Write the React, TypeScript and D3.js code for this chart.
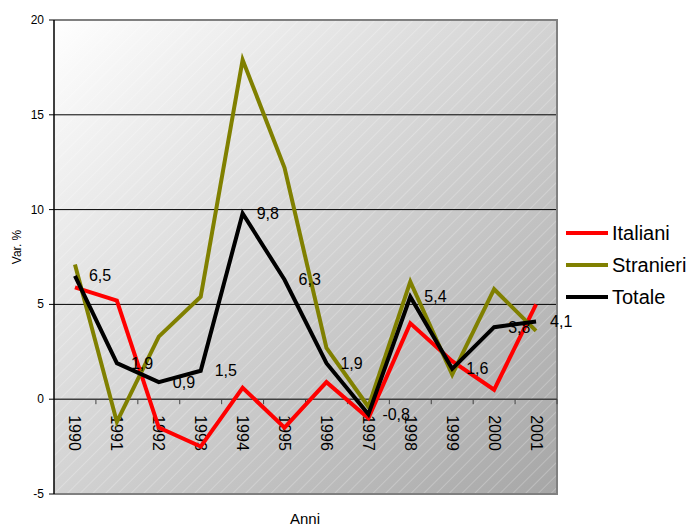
import React from "react";
import * as d3 from "d3";

// Annual % change, 1990–2001
const years = ["1990", "1991", "1992", "1993", "1994", "1995", "1996", "1997", "1998", "1999", "2000", "2001"];
const italiani = [5.9, 5.2, -1.5, -2.5, 0.6, -1.5, 0.9, -1.0, 4.0, 2.0, 0.5, 5.0];
const stranieri = [7.1, -1.2, 3.3, 5.4, 17.9, 12.2, 2.7, -0.4, 6.2, 1.3, 5.8, 3.6];
const totale = [6.5, 1.9, 0.9, 1.5, 9.8, 6.3, 1.9, -0.8, 5.4, 1.6, 3.8, 4.1];
const yTicks = [-5, 0, 5, 10, 15, 20];
const seriesNames = ["Italiani", "Stranieri", "Totale"];
const seriesColors = ["#ff0000", "#808000", "#000000"];

const W = 693;
const H = 527;
const FONT = "'Liberation Sans', Arial, sans-serif";

export default function App() {
  const left = 54;
  const right = 557;
  const top = 20;
  const bottom = 494;

  const x = d3.scaleBand<string>().domain(years).range([left, right]).padding(0);
  const y = d3.scaleLinear().domain([-5, 20]).range([bottom, top]);
  const cx = (yr: string) => (x(yr) as number) + x.bandwidth() / 2;

  const line = d3
    .line<number>()
    .x((_, i) => cx(years[i]))
    .y((v) => y(v));

  const series = [italiani, stranieri, totale];
  const y0 = y(0);

  return (
    <svg
      width={W}
      height={H}
      style={{ position: "absolute", left: 0, top: 0, background: "#ffffff" }}
      fontFamily={FONT}
    >
      <defs>
        <linearGradient id="plotBg" x1="0" y1="0" x2="1" y2="1">
          <stop offset="0" stopColor="#ffffff" />
          <stop offset="1" stopColor="#a6a6a6" />
        </linearGradient>
        <pattern
          id="hatch"
          patternUnits="userSpaceOnUse"
          width={9}
          height={9}
          patternTransform="rotate(45)"
        >
          <line x1={0} y1={0} x2={0} y2={9} stroke="#ffffff" strokeWidth={1} strokeOpacity={0.45} />
        </pattern>
      </defs>

      {/* plot area */}
      <rect x={left} y={top} width={right - left} height={bottom - top} fill="url(#plotBg)" />
      <rect x={left} y={top} width={right - left} height={bottom - top} fill="url(#hatch)" />

      {/* horizontal gridlines */}
      {yTicks
        .filter((t) => t > 0 && t < 20)
        .map((t) => (
          <line key={t} x1={left} x2={right} y1={y(t)} y2={y(t)} stroke="#000" strokeWidth={1} />
        ))}

      {/* plot border */}
      <path
        d={`M${left},${top}H${right}V${bottom}H${left}`}
        fill="none"
        stroke="#808080"
        strokeWidth={2}
      />

      {/* x axis at zero */}
      <line x1={left} x2={right} y1={y0} y2={y0} stroke="#404040" strokeWidth={1.5} />
      {years.slice(1).map((yr) => (
        <line
          key={yr}
          x1={x(yr) as number}
          x2={x(yr) as number}
          y1={y0}
          y2={y0 + 5}
          stroke="#404040"
          strokeWidth={1}
        />
      ))}
      <line x1={right} x2={right} y1={y0} y2={y0 + 5} stroke="#404040" strokeWidth={1} />

      {/* y axis */}
      <line x1={left} x2={left} y1={top} y2={bottom} stroke="#000" strokeWidth={1.5} />
      {yTicks.map((t) => (
        <g key={t}>
          <line x1={left - 5} x2={left} y1={y(t)} y2={y(t)} stroke="#000" strokeWidth={1} />
          <text
            x={left - 10}
            y={y(t)}
            textAnchor="end"
            dominantBaseline="central"
            fontSize={12}
            fill="#000"
          >
            {t}
          </text>
        </g>
      ))}

      {/* category labels */}
      {years.map((yr) => (
        <text
          key={yr}
          transform={`translate(${cx(yr)},${y0 + 16}) rotate(90)`}
          textAnchor="start"
          dominantBaseline="central"
          fontSize={16}
          fill="#000"
        >
          {yr}
        </text>
      ))}

      {/* series lines */}
      {series.map((s, i) => (
        <path
          key={seriesNames[i]}
          d={line(s) as string}
          fill="none"
          stroke={seriesColors[i]}
          strokeWidth={4}
          strokeLinejoin="miter"
        />
      ))}

      {/* value labels for the total */}
      {totale.map((v, i) => (
        <text
          key={years[i]}
          x={cx(years[i]) + 14}
          y={y(v)}
          dominantBaseline="central"
          fontSize={16}
          fill="#000"
        >
          {v.toFixed(1).replace(".", ",")}
        </text>
      ))}

      {/* axis titles */}
      <text
        transform="translate(17,247) rotate(-90)"
        textAnchor="middle"
        dominantBaseline="central"
        fontSize={12}
        fill="#000"
      >
        Var. %
      </text>
      <text x={305} y={518} textAnchor="middle" dominantBaseline="central" fontSize={15} fill="#000">
        Anni
      </text>

      {/* legend */}
      {seriesNames.map((n, i) => {
        const ly = 233 + i * 32;
        return (
          <g key={n}>
            <line x1={566} x2={608} y1={ly} y2={ly} stroke={seriesColors[i]} strokeWidth={4} />
            <text x={612} y={ly} dominantBaseline="central" fontSize={20} fill="#000">
              {n}
            </text>
          </g>
        );
      })}
    </svg>
  );
}
